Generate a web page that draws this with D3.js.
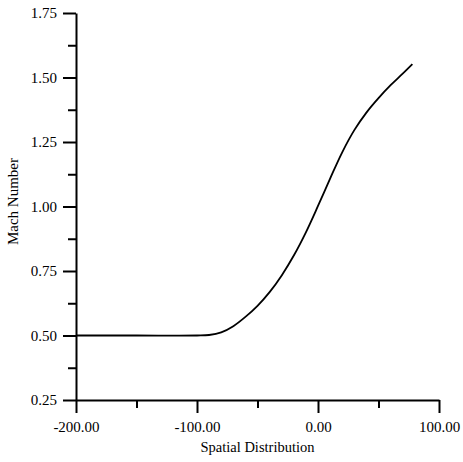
<!DOCTYPE html>
<html>
<head>
<meta charset="utf-8">
<script src="https://cdn.jsdelivr.net/npm/d3@7"></script>
<style>
  body { margin: 0; background: #fff; }
  svg { display: block; }
  .axis text { font-family: "Liberation Serif", "Times New Roman", serif; font-size: 15px; fill: #000; }
  .axis path, .axis line { stroke: #000; stroke-width: 2; }
  .label { font-family: "Liberation Serif", "Times New Roman", serif; fill: #000; }
</style>
</head>
<body>
<div id="chart"></div>
<script>
// curve
const position = [-200, -150, -100, -90, -80, -70, -60, -50, -40, -30, -20, -10, 0, 10, 20, 30, 40, 50, 60, 70, 78];
const mach = [0.500, 0.500, 0.500, 0.502, 0.512, 0.536, 0.572, 0.615, 0.668, 0.733, 0.810, 0.900, 1.002, 1.108, 1.210, 1.296, 1.364, 1.420, 1.470, 1.515, 1.552];

const xMajor = [-200, -100, 0, 100];
const xMinor = [-150, -50, 50];
const yMajor = [0.25, 0.50, 0.75, 1.00, 1.25, 1.50, 1.75];
const yMinor = [0.375, 0.625, 0.875, 1.125, 1.375, 1.625];

const width = 463, height = 462;
const margin = {top: 13, right: 24, bottom: 62, left: 76};
const w = width - margin.left - margin.right;
const h = height - margin.top - margin.bottom;

const svg = d3.select("#chart").append("svg")
    .attr("width", width)
    .attr("height", height);

const g = svg.append("g")
    .attr("transform", `translate(${margin.left},${margin.top})`);

const xScale = d3.scaleLinear().domain([-200, 100]).range([0, w]);
const yScale = d3.scaleLinear().domain([0.25, 1.75]).range([h, 0]);

const fmt = d => d.toFixed(2);

// minor ticks first, then major ticks with labels
g.append("g")
    .attr("class", "axis")
    .attr("transform", `translate(0,${h})`)
    .call(d3.axisBottom(xScale).tickValues(xMinor).tickSize(8).tickFormat(""))
    .select(".domain").remove();

g.append("g")
    .attr("class", "axis x-axis")
    .attr("transform", `translate(0,${h})`)
    .call(d3.axisBottom(xScale).tickValues(xMajor).tickSize(13).tickSizeOuter(0).tickPadding(8).tickFormat(fmt));

g.append("g")
    .attr("class", "axis")
    .call(d3.axisLeft(yScale).tickValues(yMinor).tickSize(8).tickFormat(""))
    .select(".domain").remove();

g.append("g")
    .attr("class", "axis y-axis")
    .call(d3.axisLeft(yScale).tickValues(yMajor).tickSize(13).tickSizeOuter(0).tickPadding(6).tickFormat(fmt));

const line = d3.line()
    .x((d, i) => xScale(position[i]))
    .y(d => yScale(d))
    .curve(d3.curveCatmullRom.alpha(0.5));

g.append("path")
    .datum(mach)
    .attr("fill", "none")
    .attr("stroke", "#000")
    .attr("stroke-width", 1.8)
    .attr("d", line);

svg.append("text")
    .attr("class", "label")
    .attr("x", margin.left + w / 2)
    .attr("y", 452)
    .attr("text-anchor", "middle")
    .style("font-size", "14.5px")
    .text("Spatial Distribution");

svg.append("text")
    .attr("class", "label")
    .attr("transform", `translate(18,${margin.top + h / 2 - 5}) rotate(-90)`)
    .attr("text-anchor", "middle")
    .style("font-size", "15px")
    .text("Mach Number");
</script>
</body>
</html>
